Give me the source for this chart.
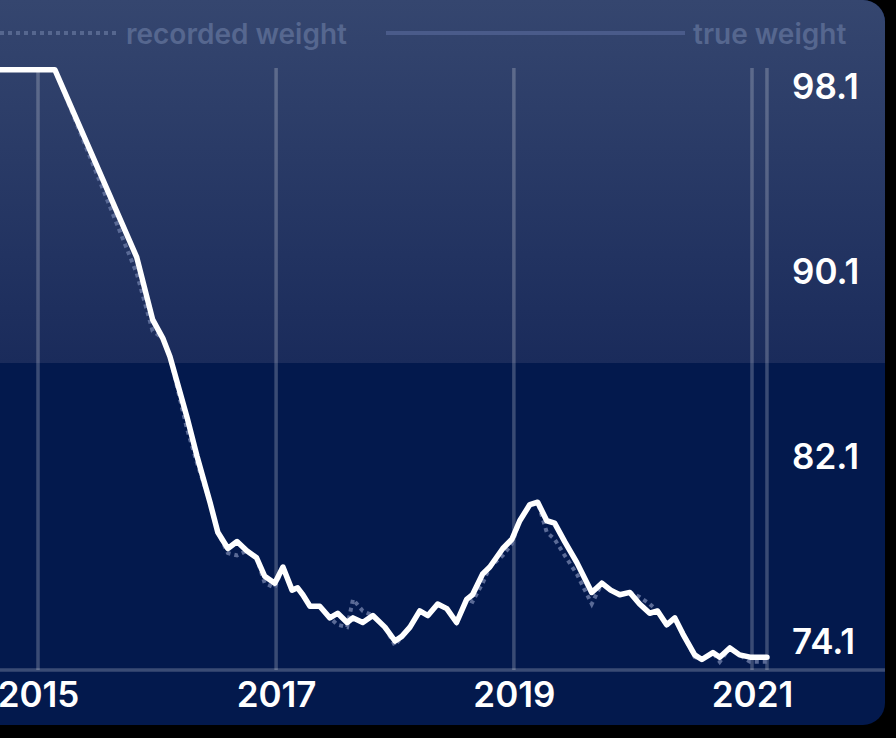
<!DOCTYPE html>
<html>
<head>
<meta charset="utf-8">
<script src="https://cdn.jsdelivr.net/npm/d3@7"></script>
<style>
  html, body { margin: 0; padding: 0; background: #000; }
  svg { display: block; font-family: Inter, "Open Sans", sans-serif; }
</style>
</head>
<body>
<script>
// weigh-in dates (roughly monthly)
const dates = [
  "2014-08-20","2015-02-22","2015-10-31","2015-12-19","2016-01-19","2016-02-10","2016-04-02","2016-05-03","2016-06-12","2016-07-06",
  "2016-08-06","2016-09-03","2016-10-03","2016-11-02","2016-11-27","2016-12-28","2017-01-22","2017-02-19","2017-03-08","2017-03-24",
  "2017-04-15","2017-05-15","2017-06-15","2017-07-09","2017-08-07","2017-08-25","2017-09-24","2017-10-25","2017-12-01","2018-01-01",
  "2018-01-22","2018-02-16","2018-03-18","2018-04-12","2018-05-12","2018-06-09","2018-07-09","2018-08-09","2018-08-27","2018-09-27",
  "2018-10-19","2018-11-28","2018-12-26","2019-01-19","2019-02-19","2019-03-15","2019-04-12","2019-05-06","2019-06-06","2019-07-13",
  "2019-08-28","2019-09-28","2019-10-25","2019-11-22","2019-12-23","2020-01-22","2020-02-22","2020-03-17","2020-04-14","2020-05-09",
  "2020-06-03","2020-07-09","2020-07-31","2020-09-03","2020-09-24","2020-10-25","2020-11-24","2020-12-26","2021-01-19","2021-02-16"
];

const trueWeight = [
  98.8, 98.8, 90.7, 88.0, 87.2, 86.4, 83.8, 82.1, 80.1, 78.8,
  78.1, 78.4, 78.0, 77.7, 76.9, 76.6, 77.3, 76.3, 76.4, 76.1,
  75.6, 75.6, 75.1, 75.3, 74.9, 75.1, 74.9, 75.2, 74.7, 74.1,
  74.3, 74.7, 75.4, 75.2, 75.7, 75.5, 74.9, 75.9, 76.1, 77.0,
  77.3, 78.1, 78.5, 79.3, 80.0, 80.1, 79.3, 79.2, 78.4, 77.5,
  76.2, 76.6, 76.3, 76.1, 76.2, 75.7, 75.3, 75.4, 74.8, 75.1,
  74.4, 73.5, 73.3, 73.6, 73.4, 73.8, 73.5, 73.4, 73.4, 73.4
];

const recordedWeight = [
  98.8, 98.8, 90.0, 87.5, 87.2, 86.4, 83.3, 81.8, 80.1, 78.8,
  77.9, 77.8, 78.0, 77.7, 76.6, 76.4, 77.3, 76.3, 76.4, 76.1,
  75.6, 75.6, 75.1, 74.8, 74.7, 75.9, 75.4, 75.2, 74.7, 73.9,
  74.3, 74.7, 75.4, 75.2, 75.7, 75.5, 74.9, 75.9, 75.8, 76.6,
  77.3, 77.8, 78.3, 79.3, 80.0, 80.1, 78.8, 78.5, 77.8, 77.0,
  75.7, 76.6, 76.3, 76.1, 76.2, 76.0, 75.7, 75.4, 74.8, 75.1,
  74.4, 73.4, 73.3, 73.6, 73.2, 73.8, 73.5, 73.2, 73.2, 73.2
];

const yearTicks = [2015, 2017, 2019, 2021];
const weightTicks = [98.1, 90.1, 82.1, 74.1];
const legendLabels = ["recorded weight", "true weight"];

const width = 896,
  height = 738,
  plot = { top: 68, bottom: 670, right: 885 },
  cardBottom = 725,
  splitY = 363;

const parse = d3.timeParse("%Y-%m-%d");
const points = dates.map((d, i) => ({
  date: parse(d),
  true: trueWeight[i],
  recorded: recordedWeight[i]
}));

const x = d3
  .scaleTime()
  .domain([new Date(2015, 0, 1), new Date(2021, 0, 1)])
  .range([38, 752]);

const y = d3
  .scaleLinear()
  .domain([74.1, 98.1])
  .range([641, 86]);

const svg = d3
  .select("body")
  .append("svg")
  .attr("width", width)
  .attr("height", height);

const defs = svg.append("defs");
const grad = defs
  .append("linearGradient")
  .attr("id", "topGrad")
  .attr("x1", 0).attr("y1", 0).attr("x2", 0).attr("y2", 1);
grad.append("stop").attr("offset", "0%").attr("stop-color", "#35466f");
grad.append("stop").attr("offset", "100%").attr("stop-color", "#1a2b5b");

defs
  .append("clipPath")
  .attr("id", "card")
  .append("rect")
  .attr("x", -40)
  .attr("y", 0)
  .attr("width", plot.right + 40)
  .attr("height", cardBottom)
  .attr("rx", 22);

const card = svg.append("g").attr("clip-path", "url(#card)");

card
  .append("rect")
  .attr("x", -40)
  .attr("y", 0)
  .attr("width", plot.right + 40)
  .attr("height", cardBottom)
  .attr("fill", "#03194d");

card
  .append("rect")
  .attr("x", -40)
  .attr("y", 0)
  .attr("width", plot.right + 40)
  .attr("height", splitY)
  .attr("fill", "url(#topGrad)");

// legend
const legendColor = "#56678f";
card
  .append("line")
  .attr("x1", 0).attr("x2", 119)
  .attr("y1", 33).attr("y2", 33)
  .attr("stroke", legendColor)
  .attr("stroke-width", 4)
  .attr("stroke-dasharray", "4 4");

card
  .append("line")
  .attr("x1", 386).attr("x2", 685)
  .attr("y1", 33).attr("y2", 33)
  .attr("stroke", "#4a5b8a")
  .attr("stroke-width", 4);

card
  .selectAll("text.legend")
  .data(legendLabels)
  .enter()
  .append("text")
  .attr("class", "legend")
  .attr("x", (d, i) => (i === 0 ? 126 : 693))
  .attr("y", 44)
  .attr("fill", legendColor)
  .attr("font-size", 28)
  .attr("font-weight", 600)
  .text(d => d);

// gridlines
const gridColor = "rgba(255,255,255,0.22)";
const lastDate = points[points.length - 1].date;

card
  .selectAll("line.grid")
  .data(yearTicks.map(yr => new Date(yr, 0, 1)).concat([lastDate]))
  .enter()
  .append("line")
  .attr("class", "grid")
  .attr("x1", d => x(d))
  .attr("x2", d => x(d))
  .attr("y1", plot.top)
  .attr("y2", plot.bottom)
  .attr("stroke", gridColor)
  .attr("stroke-width", 3.5);

card
  .append("line")
  .attr("x1", 0)
  .attr("x2", plot.right)
  .attr("y1", plot.bottom)
  .attr("y2", plot.bottom)
  .attr("stroke", gridColor)
  .attr("stroke-width", 3.5);

// lines
const recordedLine = d3
  .line()
  .x(d => x(d.date))
  .y(d => y(d.recorded));

const trueLine = d3
  .line()
  .x(d => x(d.date))
  .y(d => y(d.true));

card
  .append("path")
  .datum(points)
  .attr("d", recordedLine)
  .attr("fill", "none")
  .attr("stroke", "#5a6a96")
  .attr("stroke-width", 4)
  .attr("stroke-dasharray", "4 4");

card
  .append("path")
  .datum(points)
  .attr("d", trueLine)
  .attr("fill", "none")
  .attr("stroke", "#ffffff")
  .attr("stroke-width", 5.5)
  .attr("stroke-linejoin", "round")
  .attr("stroke-linecap", "round");

// axes
const xAxis = d3
  .axisBottom(x)
  .tickValues(yearTicks.map(yr => new Date(yr, 0, 1)))
  .tickFormat(d3.timeFormat("%Y"))
  .tickSize(0)
  .tickPadding(0);

const yAxis = d3
  .axisRight(y)
  .tickValues(weightTicks)
  .tickFormat(d3.format(".1f"))
  .tickSize(0)
  .tickPadding(0);

const gx = card
  .append("g")
  .attr("transform", `translate(0, ${plot.bottom + 12})`)
  .call(xAxis);

const gy = card
  .append("g")
  .attr("transform", "translate(792, 0)")
  .call(yAxis);

[gx, gy].forEach(g => {
  g.select(".domain").remove();
  g.attr("font-family", null).attr("font-size", null);
  g.selectAll("text")
    .attr("fill", "#ffffff")
    .attr("font-size", 35)
    .attr("font-weight", 600);
});
gy.selectAll("text").attr("dy", "0.36em");
</script>
</body>
</html>
